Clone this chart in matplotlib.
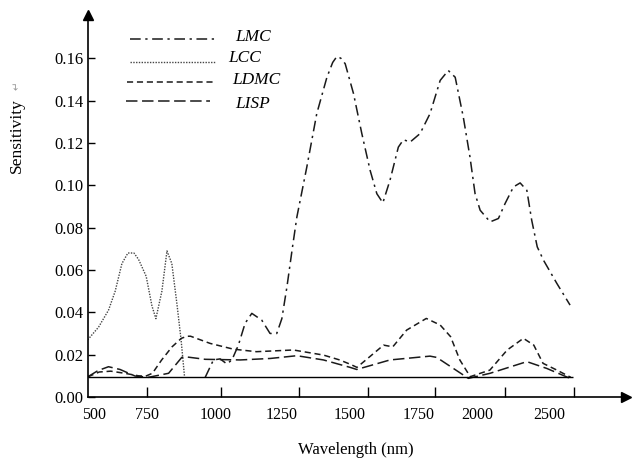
import matplotlib
matplotlib.use("Agg")
import matplotlib.pyplot as plt
from matplotlib.lines import Line2D

plt.rcParams['font.family'] = ['Liberation Serif', 'DejaVu Sans']

# ---------------- data ----------------
lmc_wl = [908, 944, 973, 1002, 1024, 1052, 1081, 1110, 1153, 1189, 1218, 1240, 1262, 1285,
          1305, 1348, 1391, 1435, 1460, 1478, 1495, 1514, 1550, 1586, 1622, 1651, 1677, 1708,
          1744, 1766, 1795, 1838, 1881, 1925, 1960, 1990, 2025, 2054, 2076, 2098, 2141, 2177,
          2206, 2242, 2271, 2300, 2321, 2345, 2372, 2430, 2487]
lmc_val = [0.0092, 0.0175, 0.0180, 0.0156, 0.0175, 0.0245, 0.0348, 0.0395, 0.0363, 0.0300,
           0.0300, 0.0370, 0.0520, 0.0700, 0.0850, 0.1086, 0.1338, 0.1510, 0.1580, 0.1608,
           0.1600, 0.1574, 0.1433, 0.1244, 0.1070, 0.0960, 0.0917, 0.1024, 0.1180, 0.1215,
           0.1204, 0.1244, 0.1338, 0.1495, 0.1542, 0.1510, 0.1322, 0.1133, 0.0960, 0.0882,
           0.0827, 0.0843, 0.0914, 0.0992, 0.1011, 0.0976, 0.0835, 0.0709, 0.0646, 0.0536,
           0.0434]

lcc_wl = [400, 447, 490, 519, 548, 574, 600, 620, 653, 678, 695, 721, 743, 764, 786, 804, 819]
lcc_val = [0.027, 0.033, 0.041, 0.050, 0.063, 0.068, 0.068, 0.065, 0.057, 0.043, 0.037,
           0.050, 0.069, 0.063, 0.044, 0.027, 0.0095]

ldmc_wl = [400, 450, 500, 560, 620, 650, 680, 720, 765, 805, 830, 845, 930, 1030, 1130, 1290,
           1420, 1490, 1535, 1565, 1620, 1680, 1720, 1780, 1865, 1925, 1970, 2010, 2055, 2140,
           2215, 2285, 2330, 2370, 2430, 2490]
ldmc_val = [0.0095, 0.0118, 0.0122, 0.0112, 0.0100, 0.0098, 0.0112, 0.0175, 0.0237, 0.0277,
            0.0287, 0.0287, 0.0253, 0.0226, 0.0214, 0.0222, 0.0198, 0.0175, 0.0155, 0.0140,
            0.0190, 0.0245, 0.0237, 0.0316, 0.0371, 0.0340, 0.0285, 0.0175, 0.0096, 0.0127,
            0.0222, 0.0277, 0.0245, 0.0159, 0.0127, 0.0093]

lisp_wl = [400, 445, 490, 540, 605, 663, 750, 807, 822, 908, 1060, 1190, 1305, 1420, 1535,
           1564, 1708, 1881, 1910, 1982, 2047, 2141, 2300, 2386, 2487]
lisp_val = [0.0095, 0.0125, 0.0143, 0.0130, 0.0099, 0.0093, 0.0112, 0.0187, 0.0190, 0.0178,
            0.0175, 0.0182, 0.0195, 0.0175, 0.0140, 0.0130, 0.0175, 0.0193, 0.0187, 0.0135,
            0.0088, 0.0112, 0.0167, 0.0135, 0.0088]

baseline_val = 0.0095
baseline_wl = [400, 2500]

series_names = ['LMC', 'LCC', 'LDMC', 'LISP']

ytick_vals = [0.00, 0.02, 0.04, 0.06, 0.08, 0.10, 0.12, 0.14, 0.16]
ytick_labels = ['0.00', '0.02', '0.04', '0.06', '0.08', '0.10', '0.12', '0.14', '0.16']
xtick_labels = ['500', '750', '1000', '1250', '1500', '1750', '2000', '2500']

# ---------------- layout ----------------
W, H = 634, 461
fig = plt.figure(figsize=(W / 100, H / 100), dpi=100)
ax_l, ax_r, ax_t, ax_b = 87.7, 626, 15, 397
ax = fig.add_axes([ax_l / W, (H - ax_b) / H, (ax_r - ax_l) / W, (ax_b - ax_t) / H])

xlabel_pos = [428, 656, 954, 1240, 1533, 1834, 2087, 2396]
xmark_pos = [655, 977, 1315, 1613, 1903, 2206, 2505]

ax.set_xlim(400, 2729)
ax.set_ylim(0, 0.1804)

col = '#1a1a1a'
ax.plot(lmc_wl, lmc_val, color=col, lw=1.1, linestyle=(0, (7, 3, 1.5, 3)))
ax.plot(lcc_wl, lcc_val, color='#444444', lw=1.0, linestyle=(0, (1, 1)))
ax.plot(ldmc_wl, ldmc_val, color=col, lw=1.1, linestyle=(0, (4, 2.5)))
ax.plot(lisp_wl, lisp_val, color=col, lw=1.1, linestyle=(0, (7.5, 3)))
ax.hlines(baseline_val, baseline_wl[0], baseline_wl[1], color='black', lw=1.0)

for s in ['top', 'right']:
    ax.spines[s].set_visible(False)
for s in ['left', 'bottom']:
    ax.spines[s].set_linewidth(1.2)
    ax.spines[s].set_color('black')

ax.set_yticks(ytick_vals, ytick_labels)
ax.tick_params(axis='y', direction='in', length=5, width=1, pad=3, labelsize=12)
ax.set_xticks(xlabel_pos, xtick_labels)
ax.set_xticks(xmark_pos, minor=True)
ax.tick_params(axis='x', which='major', length=0, pad=7, labelsize=11.5)
ax.tick_params(axis='x', which='minor', direction='in', length=7, width=1)

# arrow heads
ax.plot(1, 0, marker='>', ms=7.5, color='black', transform=ax.transAxes, clip_on=False)
ax.plot(0, 1, marker='^', ms=7.5, color='black', transform=ax.transAxes, clip_on=False)

# axis labels
fig.text(356 / W, 1 - 450 / H, 'Wavelength (nm)', ha='center', va='center', fontsize=12)
fig.text(17 / W, 1 - 136 / H, 'Sensitivity', ha='center', va='center', rotation=90, fontsize=12.5)
fig.text(17 / W, 1 - 86 / H, '\u21b5', ha='center', va='center', rotation=90, fontsize=7.5,
         color='#999999', family=['DejaVu Sans'])

# legend (manual)
styles = [dict(color=col, lw=1.1, linestyle=(0, (7, 3, 1.5, 3))),
          dict(color='#444444', lw=1.0, linestyle=(0, (1, 1))),
          dict(color=col, lw=1.1, linestyle=(0, (4, 2.5))),
          dict(color=col, lw=1.1, linestyle=(0, (7.5, 3)))]
line_y = [39.3, 61.7, 82.3, 100.7]
line_x = [(130, 217), (130, 215), (127, 213), (126, 210)]
text_xy = [(235, 37), (228, 58), (232, 80), (235, 104)]
for name, st, ly, lx, txy in zip(series_names, styles, line_y, line_x, text_xy):
    fig.add_artist(Line2D([lx[0] / W, lx[1] / W], [1 - ly / H, 1 - ly / H],
                          transform=fig.transFigure, **st))
    fig.text(txy[0] / W, 1 - txy[1] / H, name, ha='left', va='center', fontsize=12.5,
             style='italic')

fig.savefig('out.png', dpi=100)
